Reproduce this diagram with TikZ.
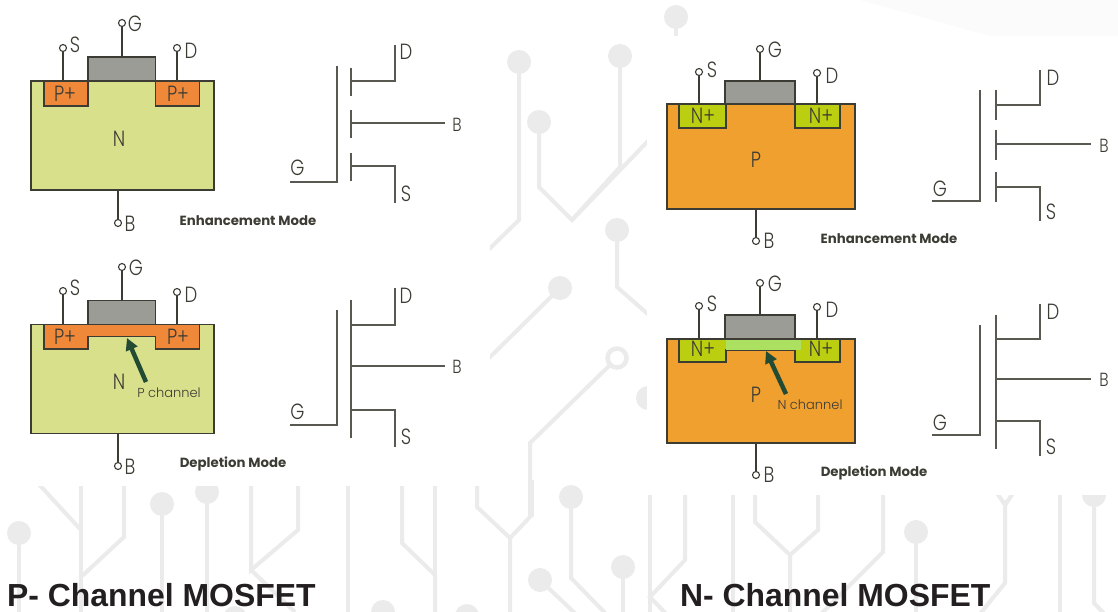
\documentclass[tikz,border=0pt]{standalone}
\usepackage{fontspec}
\setmainfont{Poppins}
\newfontfamily\titlefont{Liberation Sans}
\newfontfamily\labfont[FakeStretch=0.82]{Poppins Light}
\newfontfamily\chanfont{Poppins Light}
\usetikzlibrary{arrows.meta}
\definecolor{trace}{HTML}{EBEBEB}
\definecolor{ink}{HTML}{3C3C34}
\definecolor{nbody}{HTML}{D9E08C}
\definecolor{pplus}{HTML}{F0883A}
\definecolor{pbody}{HTML}{EFA02F}
\definecolor{nplus}{HTML}{BBCF10}
\definecolor{nchan}{HTML}{ABE061}
\definecolor{gatec}{HTML}{9C9C96}
\definecolor{arrowc}{HTML}{234A33}
\definecolor{titlec}{HTML}{231F20}
\tikzset{
  tr/.style={draw=trace,line width=4pt},
  dot/.style={circle,fill=trace,minimum size=24pt,inner sep=0pt},
  box/.style={draw=ink,line width=1.4pt,anchor=north west,inner sep=0pt,outer sep=0pt},
  wire/.style={draw=ink,line width=1.3pt},
  sym/.style={draw=ink!85,line width=1.4pt},
  term/.style={circle,draw=ink,fill=white,line width=1.1pt,minimum size=7pt,inner sep=0pt},
  lab/.style={text=ink,font=\labfont\fontsize{22}{22}\selectfont,inner sep=0pt},
  small/.style={text=ink,font=\labfont\fontsize{19}{19}\selectfont,inner sep=0pt},
  chan/.style={text=ink,font=\chanfont\fontsize{13}{13}\selectfont,inner sep=0pt},
  mode/.style={text=ink,font=\fontsize{13.3}{13.3}\selectfont\bfseries,inner sep=0pt},
  ptr/.style={draw=arrowc,line width=4.5pt,-{Triangle[width=12pt,length=12pt]}},
  ttl/.style={text=titlec,font=\titlefont\fontsize{31.9}{32}\selectfont\bfseries,inner sep=0pt,anchor=base west}
}
\begin{document}
\begin{tikzpicture}[x=1pt,y=-1pt]
\useasboundingbox (0,0) rectangle (1118,612);
\clip (0,0) rectangle (1118,612);
% ---------- watermark traces ----------
\fill[white] (0,0) rectangle (1118,612);
\fill[black!1.5] (860,0) -- (1118,0) -- (1118,36) -- (990,36) -- cycle;
% middle column
\node[dot] at (519,62) {}; \draw[tr] (519,62) -- (519,220) -- (480,258);
\node[dot] at (620,56) {}; \draw[tr] (620,56) -- (620,167) -- (572,220);
\node[dot] at (539,122) {}; \draw[tr] (539,122) -- (539,187) -- (572,220) -- (650,139);
\node[dot] at (617,230) {}; \draw[tr] (617,230) -- (617,287) -- (650,316);
\node[dot] at (560,288) {}; \draw[tr] (560,288) -- (480,367);
\node[dot] at (648,398) {};
\node[dot] at (676,17) {}; \draw[tr] (676,17) -- (676,40);
\draw[trace,line width=4.5pt,fill=white] (617,358) circle (9.5pt);
\draw[tr] (610,365) -- (530,443) -- (530,517) -- (510,538);
% bottom strip
\node[dot] at (19,533) {}; \draw[tr] (19,533) -- (19,620);
\draw[tr] (35,480) -- (81,530); \draw[tr] (81,480) -- (81,620);
\draw[tr] (124,480) -- (124,537) -- (81,577);
\node[dot] at (162,504) {}; \draw[tr] (162,504) -- (162,620);
\node[dot] at (207,492) {}; \draw[tr] (207,492) -- (207,620);
\node[dot] at (235,618) {};
\draw[tr] (251,480) -- (251,570) -- (298,530) -- (298,480);
\draw[tr] (251,570) -- (295,612);
\draw[tr] (348,480) -- (348,620);
\draw[tr] (402,480) -- (402,543) -- (435,575) -- (435,620);
\draw[tr] (435,480) -- (435,575);
\node[dot] at (383,612) {}; \node[dot] at (467,616) {};
\draw[tr] (477,480) -- (477,507) -- (510,538) -- (510,620);
\draw[tr] (532,480) -- (532,517);
\node[dot] at (571,497) {}; \draw[tr] (571,497) -- (571,578) -- (610,618);
\node[dot] at (540,580) {}; \draw[tr] (540,580) -- (580,618);
\node[dot] at (623,567) {}; \draw[tr] (623,567) -- (623,620);
\draw[tr] (650,490) -- (650,620);
\draw[tr] (685,490) -- (685,560) -- (650,597) -- (672,620);
\draw[tr] (733,490) -- (733,620);
\draw[tr] (755,490) -- (755,522) -- (790,555) -- (790,620);
\draw[tr] (818,490) -- (818,530) -- (790,555);
\draw[tr] (883,490) -- (883,552) -- (815,620);
\node[dot] at (916,532) {}; \draw[tr] (916,532) -- (916,620);
\draw[tr] (995,490) -- (1005,505) -- (1015,490);
\draw[tr] (1005,500) -- (1005,583) -- (975,620);
\draw[tr] (1060,490) -- (1060,620);
\node[dot] at (1094,495) {}; \draw[tr] (1094,495) -- (1094,603) -- (1110,620);
\node[dot] at (857,624) {};
% white panels behind the drawings
\fill[white] (0,0) rectangle (490,486);
\fill[white] (647,36) rectangle (1118,495);
%
% ---------- P-channel, enhancement ----------
\node[box,fill=nbody,minimum width=183pt,minimum height=109pt] (abody) at (31,81) {};
\node[box,fill=pplus,minimum width=44pt,minimum height=25pt] (apl) at (44,81) {};
\node[box,fill=pplus,minimum width=44pt,minimum height=25pt] (apr) at (155.5,81) {};
\node[box,fill=gatec,minimum width=67.5pt,minimum height=24pt] (agate) at (88,57) {};
\node[term] (aS) at (63,48) {}; \node[term] (aD) at (177,48) {};
\node[term] (aG) at (122,23) {}; \node[term] (aB) at (118,223) {};
\draw[wire] (aS) -- (aS |- abody.north);
\draw[wire] (aD) -- (aD |- abody.north);
\draw[wire] (aG) -- (aG |- agate.north);
\draw[wire] (aB) -- (aB |- abody.south);
\node[lab] (aSl) at (75,45) {S}; \node[lab] (aDl) at (191,51) {D};
\node[lab] (aGl) at (135,24) {G}; \node[lab] (aBl) at (130,224) {B};
\node[lab] (aN) at (119,139) {N};
\node[lab] (aPl) at (65,94) {P+}; \node[lab] (aPr) at (178,94) {P+};
\node[mode] (aM) at (248,221) {Enhancement Mode};
\coordinate (bartop) at (337,66); \coordinate (barbot) at (337,182); \coordinate (gin) at (290,182);
\draw[sym] (gin) -- (barbot) -- (bartop);
\draw[sym] (351,68) -- (351,96); \draw[sym] (351,110) -- (351,138); \draw[sym] (351,153) -- (351,181);
\draw[sym] (351,81) -- (395,81) -- (395,45);
\draw[sym] (351,123) -- (445,123);
\draw[sym] (351,166) -- (395,166) -- (395,203);
\node[lab] at (297.5,168) {G}; \node[lab] at (406,52) {D};
\node[small] at (457,125) {B}; \node[lab] at (406,194) {S};
%
% ---------- P-channel, depletion ----------
\node[box,fill=nbody,minimum width=183pt,minimum height=109pt] (bbody) at (31,324.5) {};
\filldraw[fill=pplus,draw=ink,line width=1.4pt] (44,324.5) -- (199.5,324.5) -- (199.5,349) -- (155.5,349) -- (155.5,336.5) -- (88,336.5) -- (88,349) -- (44,349) -- cycle;
\node[box,fill=gatec,minimum width=67.5pt,minimum height=24pt] (bgate) at (88,300.5) {};
\node[term] (bS) at (63,291) {}; \node[term] (bD) at (177,292) {};
\node[term] (bG) at (122,267) {}; \node[term] (bB) at (118,466) {};
\draw[wire] (bS) -- (bS |- bbody.north);
\draw[wire] (bD) -- (bD |- bbody.north);
\draw[wire] (bG) -- (bG |- bgate.north);
\draw[wire] (bB) -- (bB |- bbody.south);
\node[lab] at (75,288) {S}; \node[lab] at (191,295) {D};
\node[lab] at (136,268) {G}; \node[lab] at (130,467) {B};
\node[lab] at (119,382) {N};
\node[lab] at (65,337) {P+}; \node[lab] at (178,337) {P+};
\node[chan] (bC) at (169,393) {P channel};
\coordinate (bAs) at (146,382); \coordinate (bAe) at (127,338);
\draw[ptr] (bAs) -- (bAe);
\node[mode] at (233,464) {Depletion Mode};
\draw[sym] (290,425) -- (337,425) -- (337,310);
\draw[sym] (351,300) -- (351,438);
\draw[sym] (351,325) -- (395,325) -- (395,288);
\draw[sym] (351,366) -- (445,366);
\draw[sym] (351,410) -- (395,410) -- (395,447);
\node[lab] at (297.5,412) {G}; \node[lab] at (406,296) {D};
\node[small] at (457,367) {B}; \node[lab] at (406,437) {S};
%
% ---------- N-channel, enhancement ----------
\node[box,fill=pbody,minimum width=188pt,minimum height=105pt] (cbody) at (667,104) {};
\node[box,fill=nplus,minimum width=47pt,minimum height=24pt] (cnl) at (679,104) {};
\node[box,fill=nplus,minimum width=45pt,minimum height=24pt] (cnr) at (795,104) {};
\node[box,fill=gatec,minimum width=70pt,minimum height=23pt] (cgate) at (725,81) {};
\node[term] (cS) at (699,72) {}; \node[term] (cD) at (817,73) {};
\node[term] (cG) at (760,49) {}; \node[term] (cB) at (756,241) {};
\draw[wire] (cS) -- (cS |- cbody.north);
\draw[wire] (cD) -- (cD |- cbody.north);
\draw[wire] (cG) -- (cG |- cgate.north);
\draw[wire] (cB) -- (cB |- cbody.south);
\node[lab] at (712,70) {S}; \node[lab] at (832,76) {D};
\node[lab] at (775,50) {G}; \node[lab] at (769,241) {B};
\node[lab] at (756,160) {P};
\node[lab] at (703,116) {N+}; \node[lab] at (821,116) {N+};
\node[mode] at (889,239) {Enhancement Mode};
\draw[sym] (932,201) -- (980,201) -- (980,90);
\draw[sym] (996,90) -- (996,120); \draw[sym] (996,130) -- (996,160); \draw[sym] (996,172) -- (996,202);
\draw[sym] (996,105) -- (1040,105) -- (1040,70);
\draw[sym] (996,144) -- (1091,144);
\draw[sym] (996,187) -- (1040,187) -- (1040,221);
\node[lab] at (940,189) {G}; \node[lab] at (1053,78) {D};
\node[small] at (1104,146) {B}; \node[lab] at (1051,212) {S};
%
% ---------- N-channel, depletion ----------
\node[box,fill=pbody,minimum width=188pt,minimum height=104pt] (dbody) at (667,339) {};
\filldraw[fill=nplus,draw=ink,line width=1.4pt] (679,339) -- (840,339) -- (840,362) -- (795,362) -- (795,350) -- (726,350) -- (726,362) -- (679,362) -- cycle;
\fill[nchan] (726,340) rectangle (801,349.5);
\node[box,fill=gatec,minimum width=70pt,minimum height=24pt] (dgate) at (725,315) {};
\node[term] (dS) at (699,306) {}; \node[term] (dD) at (817,307) {};
\node[term] (dG) at (760,283) {}; \node[term] (dB) at (756,475) {};
\draw[wire] (dS) -- (dS |- dbody.north);
\draw[wire] (dD) -- (dD |- dbody.north);
\draw[wire] (dG) -- (dG |- dgate.north);
\draw[wire] (dB) -- (dB |- dbody.south);
\node[lab] at (712,304) {S}; \node[lab] at (832,310) {D};
\node[lab] at (775,284) {G}; \node[lab] at (769,475) {B};
\node[lab] at (756,395) {P};
\node[lab] at (703,349) {N+}; \node[lab] at (821,349) {N+};
\node[chan] at (810,405) {N channel};
\coordinate (dAs) at (786,394); \coordinate (dAe) at (766,351);
\draw[ptr] (dAs) -- (dAe);
\node[mode] at (874,473) {Depletion Mode};
\draw[sym] (932,435) -- (980,435) -- (980,325);
\draw[sym] (996,315) -- (996,449);
\draw[sym] (996,339) -- (1040,339) -- (1040,304);
\draw[sym] (996,379) -- (1091,379);
\draw[sym] (996,421) -- (1040,421) -- (1040,456);
\node[lab] at (940,423) {G}; \node[lab] at (1053,312) {D};
\node[small] at (1104,380) {B}; \node[lab] at (1051,447) {S};
%
% ---------- titles ----------
\node[ttl] (tp) at (7,606) {P- Channel MOSFET};
\node[ttl] (tn) at (680,606) {N- Channel MOSFET};
\end{tikzpicture}
\end{document}
